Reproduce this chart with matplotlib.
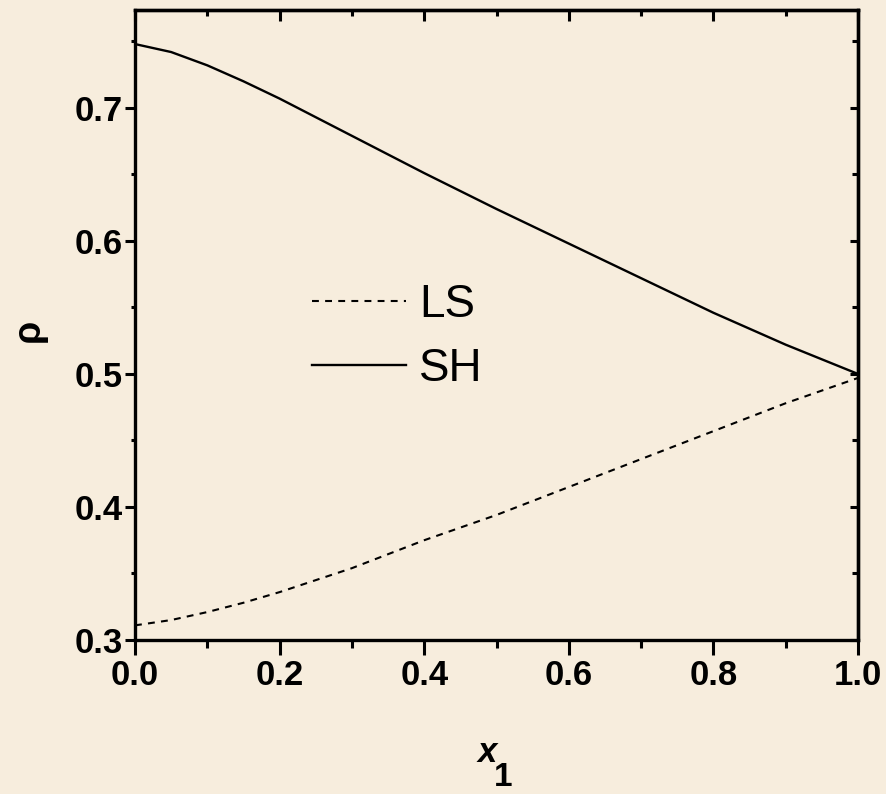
import matplotlib
matplotlib.use("Agg")
import matplotlib.pyplot as plt
from matplotlib import font_manager
from matplotlib.ticker import MultipleLocator

# Mole fraction of species 1 and the two density curves
x1 = [0.0, 0.05, 0.1, 0.15, 0.2, 0.3, 0.4, 0.5, 0.6, 0.7, 0.8, 0.9, 1.0]
rho_sh = [0.748, 0.742, 0.732, 0.720, 0.707, 0.679, 0.651, 0.624, 0.598, 0.572,
          0.546, 0.522, 0.500]
rho_ls = [0.311, 0.315, 0.321, 0.328, 0.336, 0.354, 0.375, 0.394, 0.415, 0.436,
          0.457, 0.478, 0.497]
series_labels = ["LS", "SH"]
xticks = [0.0, 0.2, 0.4, 0.6, 0.8, 1.0]
yticks = [0.3, 0.4, 0.5, 0.6, 0.7]

names = {f.name for f in font_manager.fontManager.ttflist}
if "Liberation Sans Narrow" in names:
    narrow = "Liberation Sans Narrow"
elif "DejaVu Sans Condensed" in names:
    narrow = "DejaVu Sans Condensed"
else:
    narrow = "Liberation Sans"
plt.rcParams["font.family"] = [narrow, "DejaVu Sans"]

bg = "#f7eddd"
fig = plt.figure(figsize=(8.87, 7.94), dpi=100, facecolor=bg)
ax = fig.add_axes([135 / 887, 1 - 640 / 794, 723 / 887, 630 / 794])
ax.set_facecolor(bg)

ln_ls, = ax.plot(x1, rho_ls, color="black", lw=1.5, linestyle=(0, (3.3, 3.0)))
ln_sh, = ax.plot(x1, rho_sh, color="black", lw=1.7)

ax.set_xlim(0.0, 1.0)
ax.set_ylim(0.3, 0.7736)

for s in ax.spines.values():
    s.set_linewidth(2.4)

ax.set_xticks(xticks)
ax.set_yticks(yticks)
ax.xaxis.set_minor_locator(MultipleLocator(0.1))
ax.yaxis.set_minor_locator(MultipleLocator(0.05))
ax.set_xticklabels([f"{v:.1f}" for v in xticks])
ax.set_yticklabels([f"{v:.1f}" for v in yticks])
ax.tick_params(axis="x", which="major", direction="out", length=11, width=2.2,
               labelsize=25, pad=3)
ax.tick_params(axis="x", which="minor", direction="out", length=6, width=2.2)
ax.tick_params(axis="y", which="major", direction="out", length=7, width=2.2,
               labelsize=25, pad=2)
ax.tick_params(axis="y", which="minor", direction="out", length=3, width=2.2)
for lab in ax.get_xticklabels() + ax.get_yticklabels():
    lab.set_fontweight("bold")

# inward ticks on the top and right frame
top = ax.secondary_xaxis("top")
top.set_xticks(xticks)
top.xaxis.set_minor_locator(MultipleLocator(0.1))
top.tick_params(which="major", direction="in", length=8, width=2.2, labeltop=False)
top.tick_params(which="minor", direction="in", length=4, width=2.2)
top.spines["top"].set_linewidth(2.4)
right = ax.secondary_yaxis("right")
right.set_yticks(yticks)
right.yaxis.set_minor_locator(MultipleLocator(0.05))
right.tick_params(which="major", direction="in", length=6, width=2.2, labelright=False)
right.tick_params(which="minor", direction="in", length=4, width=2.2)
right.spines["right"].set_linewidth(2.4)

# axis titles
fig.text(29 / 887, 1 - 330 / 794, "ρ", rotation=90, fontsize=27, fontweight="bold",
         family=["Liberation Sans", "DejaVu Sans"], ha="center", va="center")
fig.text(487 / 887, 1 - 752 / 794, "x", fontsize=25, fontstyle="italic",
         fontweight="bold", ha="center", va="center")
fig.text(503 / 887, 1 - 777 / 794, "1", fontsize=24, fontweight="bold",
         ha="center", va="center")

leg = ax.legend([ln_ls, ln_sh], series_labels, loc="center left",
                bbox_to_anchor=((312 - 135) / 723, (640 - 337) / 630),
                frameon=False, borderpad=0, borderaxespad=0,
                handlelength=2.05, handletextpad=0.28, labelspacing=0.42,
                prop={"family": ["Liberation Sans", "DejaVu Sans"], "size": 33})

fig.savefig("out.png", dpi=100, facecolor=bg)
